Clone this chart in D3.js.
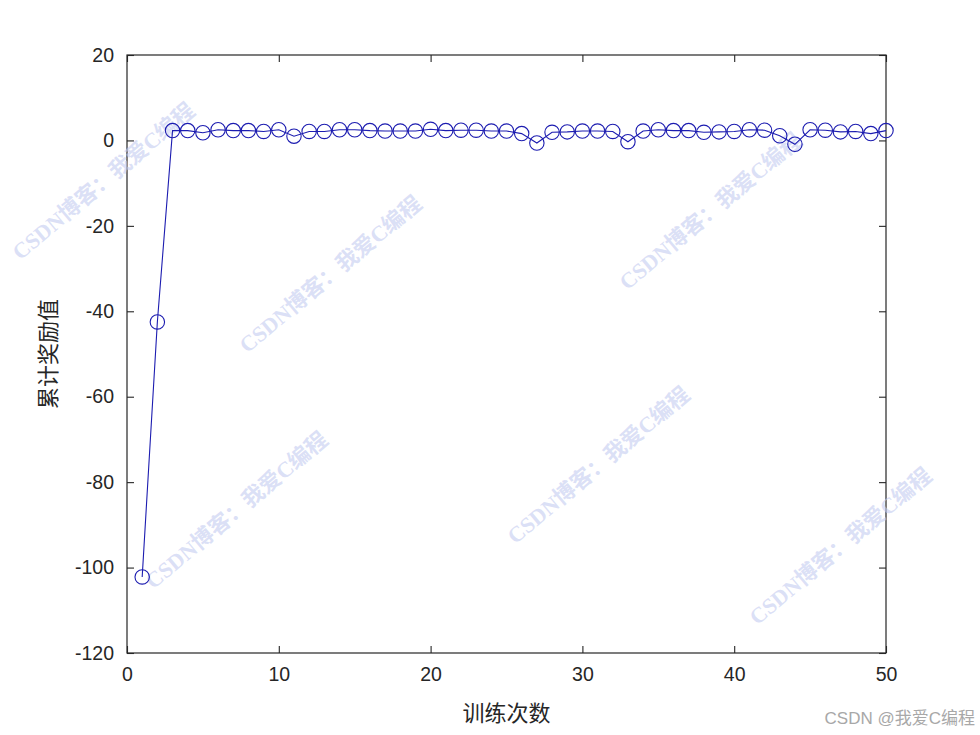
<!DOCTYPE html>
<html>
<head>
<meta charset="utf-8">
<script src="https://cdn.jsdelivr.net/npm/d3@7"></script>
<style>
html,body{margin:0;padding:0;background:#fff;}
svg{display:block;}
</style>
</head>
<body>
<svg id="chart" width="980" height="735"></svg>
<script>
const episodes = d3.range(1, 51);
const rewards = [-102.2, -42.5, 2.3, 2.3, 1.8, 2.5, 2.3, 2.3, 2.1, 2.5,
  1.0, 2.1, 2.1, 2.5, 2.5, 2.3, 2.2, 2.2, 2.2, 2.6,
  2.3, 2.4, 2.4, 2.2, 2.2, 1.6, -0.6, 1.9, 2.0, 2.2,
  2.2, 2.1, -0.3, 2.2, 2.5, 2.3, 2.3, 1.9, 2.0, 2.1,
  2.5, 2.4, 1.1, -0.9, 2.5, 2.4, 2.0, 2.1, 1.6, 2.3];
const xTicks = [0, 10, 20, 30, 40, 50];
const yTicks = [20, 0, -20, -40, -60, -80, -100, -120];
const xLabel = "训练次数";
const yLabel = "累计奖励值";
const watermarkText = "CSDN博客：我爱C编程";
const watermarkCenters = [[105, 183], [332, 276], [712, 213], [238, 512], [600, 467], [842, 548]];
const cornerMark = "CSDN @我爱C编程";

const svg = d3.select("#chart");
const L = 127, R = 886, T = 55, B = 653;
const x = d3.scaleLinear().domain([0, 50]).range([L, R]);
const y = d3.scaleLinear().domain([-120, 20]).range([B, T]);
const tickFont = "'Liberation Sans', Arial, sans-serif";
const cjkFont = "'Noto Sans CJK SC', sans-serif";
const fmt = d => String(d);

// box
svg.append("rect").attr("x", L).attr("y", T).attr("width", R - L).attr("height", B - T)
  .attr("fill", "#fff").attr("stroke", "#262626").attr("stroke-width", 1.2);

// axes
const styleAxis = g => {
  g.select(".domain").remove();
  g.selectAll(".tick line").attr("stroke", "#262626").attr("stroke-width", 1.1);
  g.selectAll(".tick text").attr("fill", "#262626").style("font-family", tickFont).style("font-size", "19.5px");
};
svg.append("g").attr("transform", `translate(0,${B})`)
  .call(d3.axisBottom(x).tickValues(xTicks).tickSizeInner(-7).tickPadding(14).tickFormat(fmt))
  .call(styleAxis);
svg.append("g").attr("transform", `translate(0,${T})`)
  .call(d3.axisTop(x).tickValues(xTicks).tickSizeInner(-7).tickFormat(""))
  .call(styleAxis);
svg.append("g").attr("transform", `translate(${L},0)`)
  .call(d3.axisLeft(y).tickValues(yTicks).tickSizeInner(-7).tickPadding(13).tickFormat(fmt))
  .call(styleAxis);
svg.append("g").attr("transform", `translate(${R},0)`)
  .call(d3.axisRight(y).tickValues(yTicks).tickSizeInner(-7).tickFormat(""))
  .call(styleAxis);

// watermarks
svg.append("g").selectAll("text").data(watermarkCenters).join("text")
  .attr("transform", d => `translate(${d[0]},${d[1]}) rotate(-40)`)
  .attr("text-anchor", "middle").attr("dominant-baseline", "middle")
  .style("font-family", "'Liberation Serif', 'Noto Sans CJK SC', serif")
  .style("font-weight", "bold").style("font-size", "22px")
  .attr("fill", "#c3cbf0").attr("fill-opacity", 0.6)
  .text(watermarkText);

// data
const color = "#1c1cb0";
const pts = episodes.map((e, i) => [e, rewards[i]]);
svg.append("path").datum(pts)
  .attr("d", d3.line().x(d => x(d[0])).y(d => y(d[1])))
  .attr("fill", "none").attr("stroke", color).attr("stroke-width", 1.1);
svg.append("g").selectAll("circle").data(pts).join("circle")
  .attr("cx", d => x(d[0])).attr("cy", d => y(d[1])).attr("r", 7.2)
  .attr("fill", "none").attr("stroke", color).attr("stroke-width", 1.1);

// labels
svg.append("text").attr("x", (L + R) / 2).attr("y", 721).attr("text-anchor", "middle")
  .style("font-family", cjkFont).style("font-size", "22px").attr("fill", "#262626").text(xLabel);
svg.append("text").attr("transform", `translate(56,${(T + B) / 2}) rotate(-90)`).attr("text-anchor", "middle")
  .style("font-family", cjkFont).style("font-size", "22px").attr("fill", "#262626").text(yLabel);

svg.append("text").attr("x", 975).attr("y", 724).attr("text-anchor", "end")
  .style("font-family", "'Liberation Sans', 'Noto Sans CJK SC', sans-serif").style("font-size", "17px")
  .attr("fill", "#a8a8a8").text(cornerMark);
</script>
</body>
</html>
